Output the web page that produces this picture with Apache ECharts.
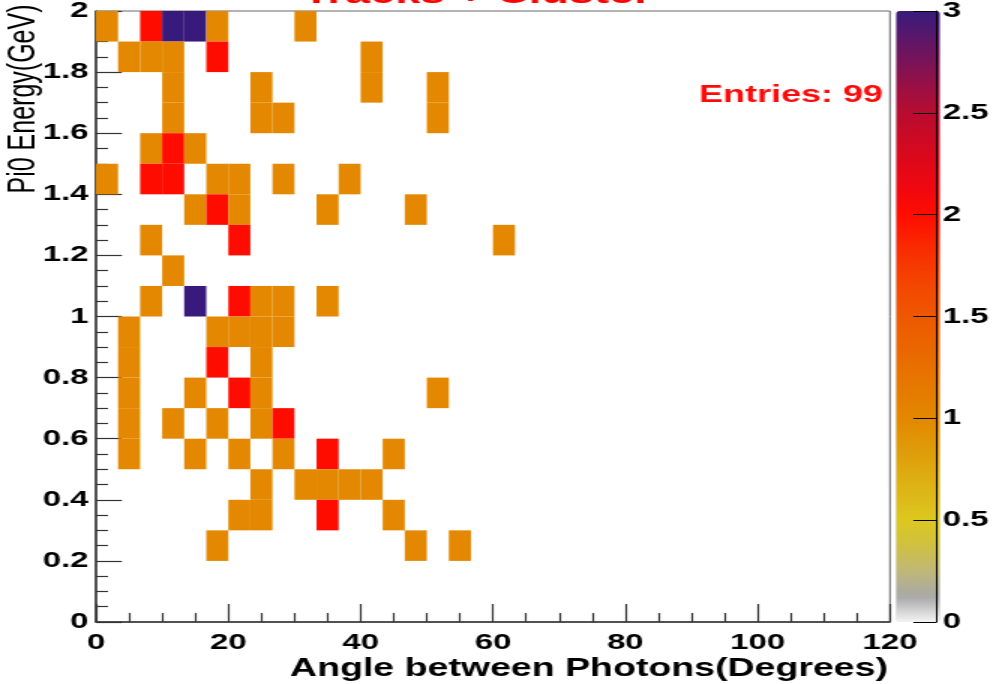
<!DOCTYPE html>
<html><head><meta charset="utf-8">
<script src="https://cdn.jsdelivr.net/npm/echarts@6/dist/echarts.min.js"></script>
<style>
html,body{margin:0;padding:0;background:#fff;overflow:hidden;width:993px;height:684px;}
#chart{width:662px;height:684px;transform:scaleX(1.5);transform-origin:0 0;}
</style></head><body><div id="chart"></div>
<script>
// ---- data ----
const angleRange = [0, 120];
const angleBins = 36;
const energyRange = [0, 2];
const energyBins = 20;
const countRange = [0, 3];
const xTickStep = 20;
const yTickStep = 0.2;
const zTickStep = 0.5;
const entries = 99;
const titleText = 'Tracks + Cluster';
const xTitle = 'Angle between Photons(Degrees)';
const yTitle = 'Pi0 Energy(GeV)';
// [angle bin index, energy bin index, entries]
const histCells = [
  [0,19,1],[2,19,2],[3,19,3],[4,19,3],[5,19,1],[9,19,1],
  [1,18,1],[2,18,1],[3,18,1],[5,18,2],[12,18,1],
  [3,17,1],[7,17,1],[12,17,1],[15,17,1],
  [3,16,1],[7,16,1],[8,16,1],[15,16,1],
  [2,15,1],[3,15,2],[4,15,1],
  [0,14,1],[2,14,2],[3,14,2],[5,14,1],[6,14,1],[8,14,1],[11,14,1],
  [4,13,1],[5,13,2],[6,13,1],[10,13,1],[14,13,1],
  [2,12,1],[6,12,2],[18,12,1],
  [3,11,1],
  [2,10,1],[4,10,3],[6,10,2],[7,10,1],[8,10,1],[10,10,1],
  [1,9,1],[5,9,1],[6,9,1],[7,9,1],[8,9,1],
  [1,8,1],[5,8,2],[7,8,1],
  [1,7,1],[4,7,1],[6,7,2],[7,7,1],[15,7,1],
  [1,6,1],[3,6,1],[5,6,1],[7,6,1],[8,6,2],
  [1,5,1],[4,5,1],[6,5,1],[8,5,1],[10,5,2],[13,5,1],
  [7,4,1],[9,4,1],[10,4,1],[11,4,1],[12,4,1],
  [6,3,1],[7,3,1],[10,3,2],[13,3,1],
  [5,2,1],[14,2,1],[16,2,1]
];
// palette, evenly spaced from 0 to 3
const paletteColors = [
  '#f4f4f4','#a8a8a8','#c0b878','#d0c040','#dcc820','#dcb818','#dea810','#e09808',
  '#e38800','#e57c00','#e87000','#eb6400','#ee5800','#f24a00','#f63a00','#fa2400',
  '#ff0c00','#f00810','#e00818','#cc0a24','#b80c30','#9a1044','#7a1458','#58186a','#381a7c'
];

// ---- build ----
const dx = (angleRange[1] - angleRange[0]) / angleBins;
const dy = (energyRange[1] - energyRange[0]) / energyBins;
const cellData = histCells.map(([i, j, n]) => [angleRange[0] + i * dx, energyRange[0] + j * dy, n]);

const FONT = '"Liberation Sans", Arial, sans-serif';
const AX = '#333';
const lab = {fontFamily: FONT, fontWeight: 'bold', fontSize: 22, color: '#000'};

const chart = echarts.init(document.getElementById('chart'), null, {renderer: 'canvas'});
chart.setOption({
  animation: false,
  backgroundColor: '#fff',
  grid: [
    {left: 64, top: 11, width: 529.3, height: 611, show: true, borderColor: '#666', borderWidth: 1, backgroundColor: 'transparent'},
    {left: 597.3, top: 11, width: 29.4, height: 611}
  ],
  xAxis: [
    {gridIndex: 0, type: 'value', min: angleRange[0], max: angleRange[1], interval: xTickStep,
     axisLine: {lineStyle: {color: AX, width: 1.5}},
     axisTick: {inside: true, length: 18, lineStyle: {color: AX, width: 1.2}},
     minorTick: {show: true, splitNumber: 4, length: 9, lineStyle: {color: AX, width: 1.2}},
     splitLine: {show: false},
     axisLabel: Object.assign({margin: 10}, lab)},
    {gridIndex: 1, type: 'value', min: 0, max: 1, show: false}
  ],
  yAxis: [
    {gridIndex: 0, type: 'value', min: energyRange[0], max: energyRange[1], interval: yTickStep,
     axisLine: {lineStyle: {color: AX, width: 1.5}},
     axisTick: {inside: true, length: 17.3, lineStyle: {color: AX, width: 1.2}},
     minorTick: {show: true, splitNumber: 4, length: 8, lineStyle: {color: AX, width: 1.2}},
     splitLine: {show: false},
     axisLabel: Object.assign({margin: 5}, lab)},
    {gridIndex: 1, type: 'value', position: 'right', min: countRange[0], max: countRange[1], interval: zTickStep,
     axisLine: {show: true, onZero: false, lineStyle: {color: '#000', width: 1}},
     axisTick: {show: true, inside: true, length: 15.5, lineStyle: {color: '#000', width: 1}},
     splitLine: {show: false},
     z: 10,
     axisLabel: Object.assign({margin: 4}, lab)}
  ],
  visualMap: {
    type: 'continuous', min: countRange[0], max: countRange[1], dimension: 2, seriesIndex: 0,
    inRange: {color: paletteColors},
    left: 597.3, top: 11, itemWidth: 29.4, itemHeight: 611, padding: 0,
    calculable: false, hoverLink: false, orient: 'vertical', z: 1
  },
  series: [{
    type: 'custom',
    xAxisIndex: 0, yAxisIndex: 0,
    data: cellData,
    encode: {x: 0, y: 1},
    renderItem: function (params, api) {
      const x0 = api.value(0), y0 = api.value(1);
      const p1 = api.coord([x0, y0 + dy]);
      const p2 = api.coord([x0 + dx, y0]);
      return {type: 'rect',
        shape: {x: p1[0], y: p1[1], width: p2[0] - p1[0], height: p2[1] - p1[1]},
        style: {fill: api.visual('color')}};
    }
  }],
  graphic: [
    {type: 'text', x: 318, y: -5.5, z: 100, style: {text: titleText, fill: '#ff0000', font: 'bold 30px ' + FONT, textAlign: 'center', textVerticalAlign: 'middle'}},
    {type: 'text', x: 588.7, y: 95, style: {text: 'Entries: ' + entries, fill: '#ff0a0a', font: 'bold 24px ' + FONT, textAlign: 'right', textVerticalAlign: 'middle'}},
    {type: 'text', x: 592, y: 669, style: {text: xTitle, fill: '#000', font: 'bold 25px ' + FONT, textAlign: 'right', textVerticalAlign: 'middle'}},
    {type: 'text', x: 16.5, y: 99, rotation: Math.PI / 2, style: {text: yTitle, fill: '#000', font: '25px ' + FONT, textAlign: 'center', textVerticalAlign: 'middle'}}
  ]
});
</script></body></html>
